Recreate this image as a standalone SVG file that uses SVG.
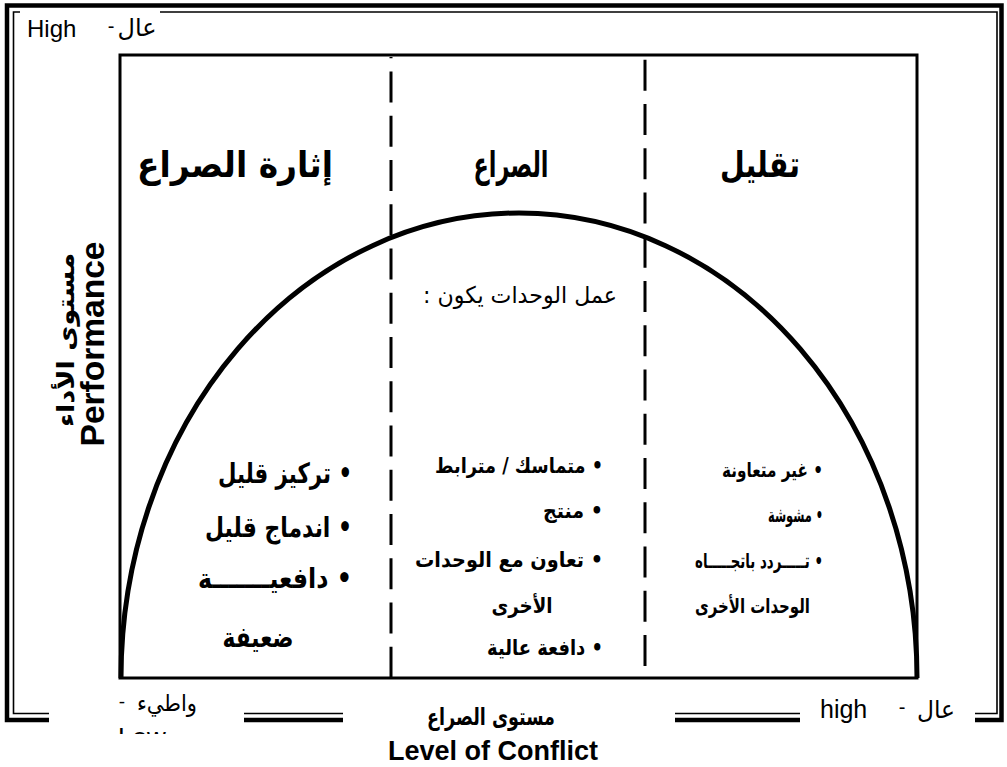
<svg xmlns="http://www.w3.org/2000/svg" width="1007" height="767" viewBox="0 0 1007 767">
<style>
.en{font-family:"Liberation Sans",Arial,sans-serif;fill:#000}
.ar{font-family:"DejaVu Sans",sans-serif;fill:#000}
.b{font-weight:bold}
.li{font-family:"DejaVu Sans",sans-serif;font-weight:bold;fill:#000;direction:rtl;text-anchor:start}
.thick{fill:none;stroke:#000;stroke-width:4.5}
.thin{fill:none;stroke:#000;stroke-width:1.6}
.dash{stroke:#000;stroke-width:3;stroke-dasharray:31 13.25}
.box{fill:none;stroke:#000;stroke-width:3}
.curve{fill:none;stroke:#000;stroke-width:5}
</style>
<defs>
<clipPath id="lowclip"><rect x="100" y="700" width="120" height="34"/></clipPath>
</defs>
<rect width="1007" height="767" fill="#fff"/>
<g id="frame">
<path class="thick" d="M49 720 H7 V5.5 H1001.5 V720 H975 M244 720 H343 M675 720 H800"/>
<path class="thin" d="M49 713.5 H13.5 V12 H20 M160 12 H997 V713.5 H975 M244 713.5 H343 M675 713.5 H800"/>
</g>
<g id="chart">
<rect class="box" x="120" y="55" width="797" height="623"/>
<path class="curve" d="M121 678 A398 465 0 0 1 917 678"/>
</g>
<g id="connectors">
<line class="dash" x1="391" y1="57" x2="391" y2="677" style="stroke-dashoffset:29.75"/>
<line class="dash" x1="645" y1="57" x2="645" y2="677" style="stroke-dashoffset:41.5"/>
</g>
<g id="headers">
<text class="ar b" x="760" y="177" font-size="36" text-anchor="middle" textLength="80" lengthAdjust="spacingAndGlyphs">تقليل</text>
<text class="ar b" x="511" y="177" font-size="36" text-anchor="middle" textLength="75" lengthAdjust="spacingAndGlyphs">الصراع</text>
<text class="ar b" x="235" y="177" font-size="36" text-anchor="middle" textLength="196" lengthAdjust="spacingAndGlyphs">إثارة الصراع</text>
</g>
<g id="middle-intro">
<text class="ar" x="520" y="303" font-size="23" text-anchor="middle" direction="rtl" textLength="194" lengthAdjust="spacingAndGlyphs">عمل الوحدات يكون :</text>
</g>
<g id="left-list">
<text class="li" x="352" y="483" font-size="28" textLength="134" lengthAdjust="spacingAndGlyphs">• تركيز قليل</text>
<text class="li" x="352" y="537" font-size="28" textLength="147" lengthAdjust="spacingAndGlyphs">• اندماج قليل</text>
<text class="li" x="352" y="588" font-size="28" textLength="154" lengthAdjust="spacingAndGlyphs">• دافعيـــــــة</text>
<text class="ar b" x="258" y="647" font-size="28" text-anchor="middle" textLength="71" lengthAdjust="spacingAndGlyphs">ضعيفة</text>
</g>
<g id="middle-list">
<text class="li" x="603" y="473" font-size="21" textLength="168" lengthAdjust="spacingAndGlyphs">• متماسك / مترابط</text>
<text class="li" x="603" y="518" font-size="21" textLength="60" lengthAdjust="spacingAndGlyphs">• منتج</text>
<text class="li" x="603" y="567" font-size="21" textLength="188" lengthAdjust="spacingAndGlyphs">• تعاون مع الوحدات</text>
<text class="ar b" x="522" y="613" font-size="21" text-anchor="middle" textLength="61" lengthAdjust="spacingAndGlyphs">الأخرى</text>
<text class="li" x="603" y="655" font-size="21" textLength="116" lengthAdjust="spacingAndGlyphs">• دافعة عالية</text>
</g>
<g id="right-list">
<text class="li" x="823" y="477" font-size="20" textLength="101" lengthAdjust="spacingAndGlyphs">• غير متعاونة</text>
<text class="li" x="823" y="522" font-size="20" textLength="55" lengthAdjust="spacingAndGlyphs">• مشوشة</text>
<text class="li" x="823" y="568" font-size="20" textLength="128" lengthAdjust="spacingAndGlyphs">• تـــــردد باتجـــــاه</text>
<text class="ar b" x="810" y="613" font-size="20" text-anchor="end" textLength="115" lengthAdjust="spacingAndGlyphs">الوحدات الأخرى</text>
</g>
<g id="y-axis">
<text class="en b" font-size="33" text-anchor="middle" transform="translate(104 344) rotate(-90)" textLength="205" lengthAdjust="spacingAndGlyphs">Performance</text>
<text class="ar b" font-size="24" text-anchor="middle" transform="translate(74 340) rotate(-90)" textLength="174" lengthAdjust="spacingAndGlyphs">مستوى الأداء</text>
</g>
<g id="top-label">
<text class="en" x="27" y="37" font-size="24">High</text>
<text class="en" x="111" y="33" font-size="20" text-anchor="middle">-</text>
<text class="ar" x="137" y="36" font-size="24" text-anchor="middle" textLength="39" lengthAdjust="spacingAndGlyphs">عال</text>
</g>
<g id="x-axis">
<text class="en" x="122" y="708" font-size="19" text-anchor="middle">-</text>
<text class="ar" x="167" y="711" font-size="23" text-anchor="middle" textLength="60" lengthAdjust="spacingAndGlyphs">واطيء</text>
<text class="en" x="118" y="746" font-size="26" clip-path="url(#lowclip)">Low</text>
<text class="ar b" x="491" y="725" font-size="24" text-anchor="middle" textLength="128" lengthAdjust="spacingAndGlyphs">مستوى الصراع</text>
<text class="en b" x="493" y="760" font-size="27" text-anchor="middle">Level of Conflict</text>
<text class="en" x="820" y="718" font-size="25">high</text>
<text class="en" x="902" y="714" font-size="20" text-anchor="middle">-</text>
<text class="ar" x="936" y="718" font-size="24" text-anchor="middle" textLength="38" lengthAdjust="spacingAndGlyphs">عال</text>
</g>
</svg>
